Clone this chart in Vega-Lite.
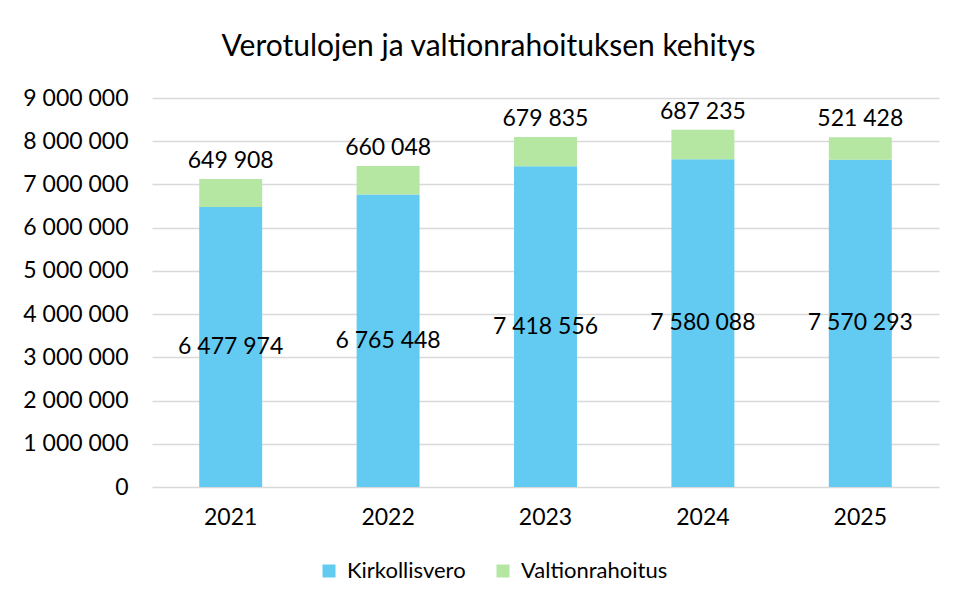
{
  "$schema": "https://vega.github.io/schema/vega-lite/v6.json",
  "autosize": {"type": "none"},
  "width": 787,
  "height": 389,
  "padding": {"left": 152, "top": 98, "right": 16, "bottom": 121},
  "background": "white",
  "title": {
    "text": "Verotulojen ja valtionrahoituksen kehitys",
    "fontSize": 30,
    "font": "Lato",
    "fontWeight": "normal",
    "color": "#000000",
    "anchor": "middle",
    "dx": -57,
    "offset": 25
  },
  "data": {
    "values": [
      {"year": "2021", "type": "Kirkollisvero", "value": 6477974},
      {"year": "2021", "type": "Valtionrahoitus", "value": 649908},
      {"year": "2022", "type": "Kirkollisvero", "value": 6765448},
      {"year": "2022", "type": "Valtionrahoitus", "value": 660048},
      {"year": "2023", "type": "Kirkollisvero", "value": 7418556},
      {"year": "2023", "type": "Valtionrahoitus", "value": 679835},
      {"year": "2024", "type": "Kirkollisvero", "value": 7580088},
      {"year": "2024", "type": "Valtionrahoitus", "value": 687235},
      {"year": "2025", "type": "Kirkollisvero", "value": 7570293},
      {"year": "2025", "type": "Valtionrahoitus", "value": 521428}
    ]
  },
  "encoding": {
    "x": {
      "field": "year",
      "type": "nominal",
      "title": null,
      "scale": {"paddingInner": 0.6, "paddingOuter": 0.3},
      "axis": {
        "labelAngle": 0,
        "labelFontSize": 23,
        "labelFont": "Lato",
        "labelColor": "#000000",
        "labelPadding": 19,
        "ticks": false,
        "domain": false
      }
    }
  },
  "layer": [
    {
      "mark": {"type": "bar"},
      "encoding": {
        "y": {
          "field": "value",
          "type": "quantitative",
          "stack": "zero",
          "title": null,
          "scale": {"domain": [0, 9000000], "nice": false},
          "axis": {
            "values": [0, 1000000, 2000000, 3000000, 4000000, 5000000, 6000000, 7000000, 8000000, 9000000],
            "format": ",d",
            "labelFontSize": 23,
            "labelFont": "Lato",
            "labelColor": "#000000",
            "labelPadding": 24,
            "ticks": false,
            "domain": false,
            "gridColor": "#D9D9D9",
            "gridWidth": 1.5
          }
        },
        "color": {
          "field": "type",
          "type": "nominal",
          "title": null,
          "scale": {"domain": ["Kirkollisvero", "Valtionrahoitus"], "range": ["#63CBF2", "#B5E6A2"]},
          "legend": {
            "orient": "none",
            "direction": "horizontal",
            "legendX": 166,
            "legendY": 462,
            "symbolType": "square",
            "symbolSize": 169,
            "symbolStrokeWidth": 0,
            "labelFontSize": 22,
            "labelFont": "Lato",
            "labelColor": "#000000",
            "labelOffset": 7,
            "columnPadding": 26
          }
        },
        "order": {"field": "type", "sort": "ascending"}
      }
    },
    {
      "mark": {"type": "text", "baseline": "bottom", "dy": -6, "fontSize": 23, "font": "Lato", "color": "#000000"},
      "encoding": {
        "y": {
          "field": "value",
          "type": "quantitative",
          "stack": "zero",
          "scale": {"domain": [0, 9000000], "nice": false},
          "axis": null
        },
        "order": {"field": "type", "sort": "ascending"},
        "detail": {"field": "type"},
        "text": {
          "condition": {"test": "datum.type === 'Valtionrahoitus'", "field": "value", "type": "quantitative", "format": ",d"},
          "value": ""
        }
      }
    },
    {
      "transform": [{"filter": "datum.type === 'Kirkollisvero'"}],
      "mark": {"type": "text", "baseline": "middle", "fontSize": 23, "font": "Lato", "color": "#000000"},
      "encoding": {
        "y": {
          "field": "value",
          "type": "quantitative",
          "stack": null,
          "scale": {"domain": [0, 18000000], "nice": false},
          "axis": null
        },
        "text": {"field": "value", "type": "quantitative", "format": ",d"}
      }
    }
  ],
  "resolve": {"scale": {"y": "independent"}},
  "config": {
    "locale": {"number": {"decimal": ",", "thousands": " ", "grouping": [3], "currency": ["", " €"]}},
    "view": {"stroke": null}
  }
}
